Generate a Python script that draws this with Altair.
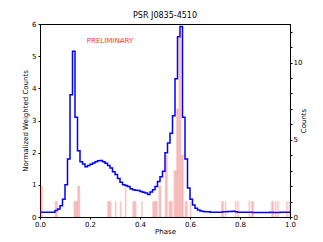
import altair as alt
import pandas as pd

# Blue step curve: normalized weighted counts, bins of width 0.01 in phase
bin_start = [i / 100 for i in range(100)]
norm_counts = [
    0.15, 0.15, 0.15, 0.15, 0.15, 0.15, 0.20, 0.25, 0.35, 0.55,
    1.00, 1.80, 3.80, 5.15, 3.10, 2.06, 1.72, 1.65, 1.56, 1.60,
    1.64, 1.68, 1.72, 1.75, 1.76, 1.72, 1.67, 1.60, 1.52, 1.41,
    1.32, 1.20, 1.08, 1.00, 0.98, 0.95, 0.88, 0.85, 0.83, 0.82,
    0.79, 0.77, 0.75, 0.70, 0.78, 0.85, 0.95, 1.10, 1.25, 1.42,
    2.00, 2.30, 2.60, 3.15, 4.30, 5.60, 5.92, 3.10, 1.80, 0.90,
    0.55, 0.37, 0.27, 0.22, 0.19, 0.17, 0.16, 0.16, 0.15, 0.15,
    0.15, 0.15, 0.15, 0.16, 0.16, 0.17, 0.17, 0.18, 0.16, 0.15,
    0.15, 0.15, 0.15, 0.15, 0.15, 0.14, 0.14, 0.14, 0.14, 0.14,
    0.14, 0.14, 0.15, 0.14, 0.14, 0.14, 0.15, 0.15, 0.15, 0.15,
]

# Pink histogram: photon counts, bins of width 0.005 (only non-empty bins)
bar_phase = [
    0.000, 0.005, 0.060, 0.065, 0.135, 0.140, 0.145, 0.150, 0.155,
    0.270, 0.275, 0.280, 0.300, 0.320, 0.340, 0.370, 0.375, 0.380,
    0.405, 0.450, 0.455, 0.460, 0.465, 0.475, 0.480, 0.500, 0.505,
    0.515, 0.520, 0.525, 0.535, 0.540, 0.545, 0.550, 0.555, 0.560,
    0.565, 0.570, 0.580, 0.585, 0.600, 0.725, 0.730, 0.740, 0.780,
    0.790, 0.835, 0.845, 0.850, 0.925, 0.930, 0.940, 0.950, 0.985, 0.995,
]
bar_counts = [
    2, 2, 1, 1, 1, 1, 1, 2, 2,
    1, 1, 1, 1, 1, 2, 1, 1, 1,
    1, 1, 1, 1, 1, 2, 2, 4, 4,
    1, 1, 1, 3, 3, 7, 7, 12, 12,
    4, 4, 1, 1, 1, 1, 1, 1, 1,
    1, 1, 1, 1, 1, 1, 1, 1, 1, 1,
]

x_ticks = [0.0, 0.2, 0.4, 0.6, 0.8, 1.0]
left_ticks = [0, 1, 2, 3, 4, 5, 6]
right_ticks = list(range(13))

line_df = pd.DataFrame({"phase": bin_start + [1.0], "value": norm_counts + [norm_counts[-1]]})
bar_df = pd.DataFrame({"phase": bar_phase, "count": bar_counts})
note_df = pd.DataFrame({"phase": [0.28], "value": [5.47], "text": ["PRELIMINARY"]})

FONT = "DejaVu Sans"

x_scale = alt.Scale(domain=[0, 1], nice=False, zero=False)
x_axis = alt.Axis(title="Phase", values=x_ticks, format=".1f", labelFlush=False,
                  labelOverlap=False, labelPadding=1, titlePadding=0)
left_scale = alt.Scale(domain=[0, 6], nice=False)
left_axis = alt.Axis(title="Normalized Weighted Counts", orient="left", values=left_ticks,
                     format="d", labelFlush=False, labelOverlap=False,
                     labelPadding=2, titlePadding=3)

line = alt.Chart(line_df).mark_line(
    interpolate="step-after", color="#0000ff", strokeWidth=1.5
).encode(
    x=alt.X("phase:Q", scale=x_scale, axis=x_axis),
    y=alt.Y("value:Q", scale=left_scale, axis=left_axis),
)

note = alt.Chart(note_df).mark_text(
    color="#ff3030", fontSize=7, font=FONT, align="center", baseline="middle"
).encode(
    x=alt.X("phase:Q", scale=x_scale, axis=x_axis),
    y=alt.Y("value:Q", scale=left_scale, axis=left_axis),
    text="text:N",
)

left = alt.layer(line, note)

bars = alt.Chart(bar_df).transform_calculate(
    phase2="datum.phase + 0.005", base="0"
).mark_rect(
    fill="#ff0000", fillOpacity=0.17, stroke="#d04040", strokeOpacity=0.2, strokeWidth=0.6
).encode(
    x=alt.X("phase:Q", scale=x_scale, axis=x_axis),
    x2="phase2:Q",
    y=alt.Y(
        "count:Q",
        scale=alt.Scale(domain=[0, 12.5], nice=False),
        axis=alt.Axis(title="Counts", orient="right", values=right_ticks,
                      labelExpr="datum.value % 5 == 0 ? datum.label : ''",
                      labelFlush=False, labelOverlap=False, labelPadding=1,
                      titlePadding=5, titleAngle=270),
    ),
    y2="base:Q",
)

chart = alt.layer(left, bars).resolve_scale(y="independent").properties(
    width=250,
    height=193,
    title=alt.TitleParams("PSR J0835-4510", fontSize=8, font=FONT, fontWeight="normal",
                          anchor="middle", offset=0, color="black"),
    autosize=alt.AutoSizeParams(type="none"),
    padding={"left": 32, "top": 16, "right": 24, "bottom": 18},
).configure_axis(
    labelFont=FONT, titleFont=FONT, labelFontSize=7, titleFontSize=7,
    titleFontWeight="normal", grid=False, domainColor="black", tickColor="black",
    labelColor="black", titleColor="black", tickSize=2,
).configure_view(stroke="black", strokeWidth=1)

chart.save("out.html", embed_options={"renderer": "svg", "actions": False})
